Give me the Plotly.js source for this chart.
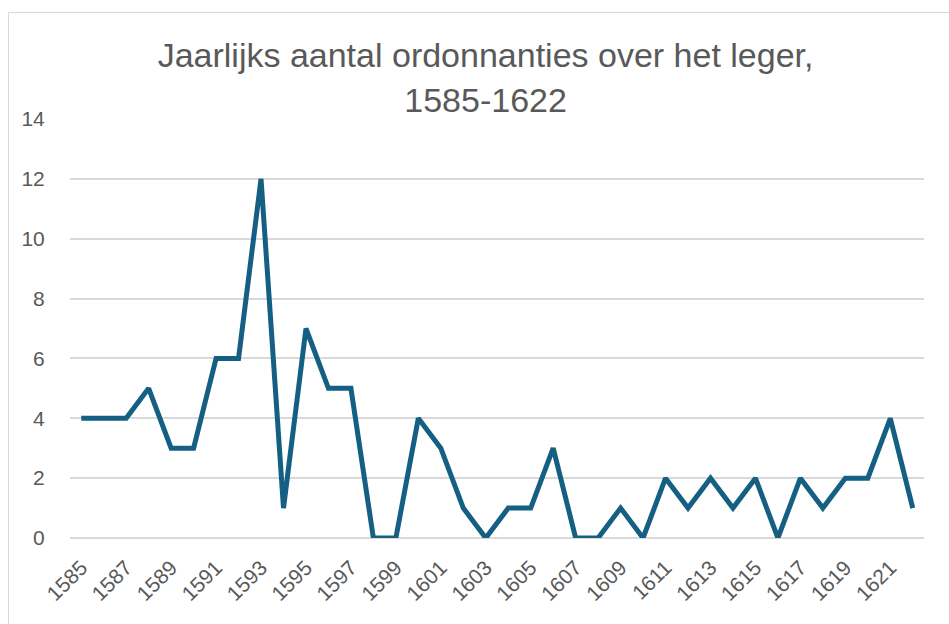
<!DOCTYPE html>
<html>
<head>
<meta charset="utf-8">
<script src="https://cdn.plot.ly/plotly-3.0.1.min.js"></script>
<style>
  html, body { margin: 0; padding: 0; background: #fff; }
  #chart {
    position: absolute; left: 8px; top: 12px;
    width: 940px; height: 611px;
    border-left: 1px solid #d9d9d9; border-top: 1px solid #d9d9d9;
  }
</style>
</head>
<body>
<div id="chart"></div>
<script>
// jaren en aantal ordonnanties per jaar
var years = [];
for (var y = 1585; y <= 1622; y++) years.push(String(y));

var counts = [4, 4, 4, 5, 3, 3, 6, 6, 12, 1,
              7, 5, 5, 0, 0, 4, 3, 1, 0, 1,
              1, 3, 0, 0, 1, 0, 2, 1, 2, 1,
              2, 0, 2, 1, 2, 2, 4, 1];

var yTicks = [0, 2, 4, 6, 8, 10, 12, 14];

var grey = '#595959';
var font = 'Liberation Sans, Arial, sans-serif';

var trace = {
    x: years,
    y: counts,
    type: 'scatter',
    mode: 'lines',
    line: {color: '#156082', width: 5},
    hoverinfo: 'skip'
};

var layout = {
    width: 940,
    height: 611,
    margin: {l: 61, r: 25, t: 106, b: 86},
    paper_bgcolor: '#fff',
    plot_bgcolor: '#fff',
    showlegend: false,
    font: {family: font, color: grey},
    title: {
        text: 'Jaarlijks aantal ordonnanties over het leger,<br>1585-1622',
        font: {family: font, size: 34, color: grey},
        xref: 'container', x: 0.507, xanchor: 'center',
        yref: 'container', y: 0.911, yanchor: 'top'
    },
    xaxis: {
        type: 'category',
        tickmode: 'array',
        tickvals: years.filter(function (d, i) { return i % 2 === 0; }),
        tickangle: -45,
        tickfont: {size: 21, color: grey},
        showgrid: false,
        zeroline: false,
        showline: false,
        // onzichtbare streepjes als afstand tot de labels
        ticks: 'outside',
        ticklen: 8,
        tickcolor: 'rgba(0,0,0,0)',
        range: [-0.5, years.length - 0.5]
    },
    yaxis: {
        range: [0, 14],
        tickvals: yTicks,
        tickfont: {size: 21, color: grey},
        gridcolor: '#d9d9d9',
        gridwidth: 2,
        zeroline: true,
        zerolinecolor: '#d9d9d9',
        zerolinewidth: 2,
        showline: false,
        ticks: 'outside',
        ticklen: 20,
        tickcolor: 'rgba(0,0,0,0)'
    }
};

Plotly.newPlot('chart', [trace], layout, {displayModeBar: false, staticPlot: true});
</script>
</body>
</html>
